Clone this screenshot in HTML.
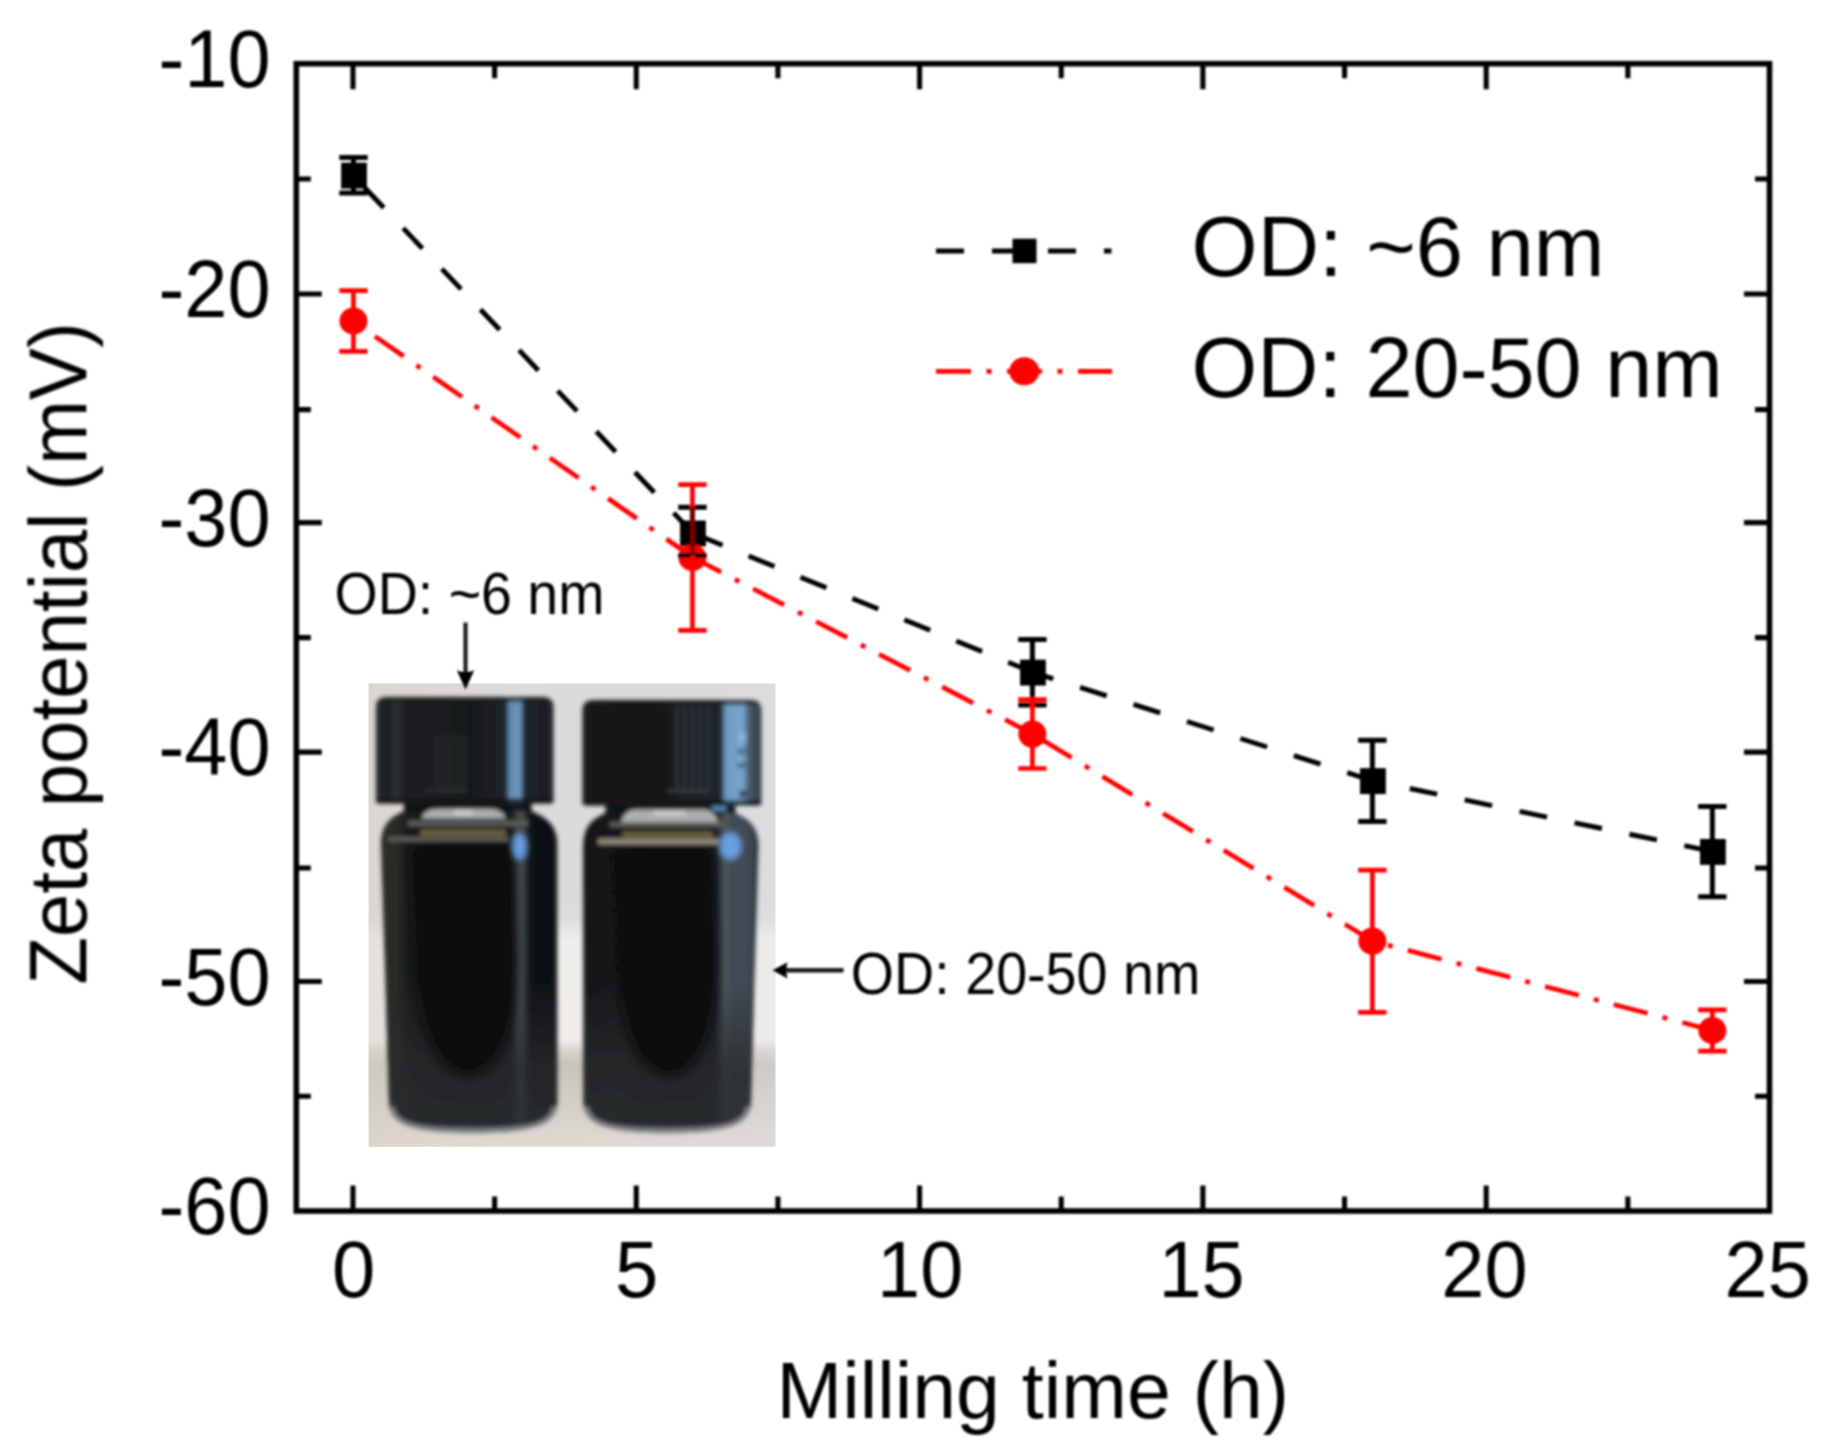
<!DOCTYPE html>
<html lang="en"><head><meta charset="utf-8"><title>Zeta potential vs milling time</title>
<style>
html,body{margin:0;padding:0;background:#fff;}
body{width:1830px;height:1455px;overflow:hidden;}
svg{display:block;}
</style></head><body>
<svg width="1830" height="1455" viewBox="0 0 1830 1455">
<rect width="1830" height="1455" fill="#fff"/>
<defs>
<clipPath id="pclip"><rect x="368.7" y="683.5" width="406.7" height="463.20000000000005"/></clipPath>
<filter id="pblur" x="-5%" y="-5%" width="110%" height="110%"><feGaussianBlur stdDeviation="2.1"/></filter>
<filter id="pblur2" x="-20%" y="-20%" width="140%" height="140%"><feGaussianBlur stdDeviation="4"/></filter>
<filter id="pblur3" x="-20%" y="-20%" width="140%" height="140%"><feGaussianBlur stdDeviation="2.2"/></filter>
<linearGradient id="pbg" gradientUnits="userSpaceOnUse" x1="0" y1="683.5" x2="0" y2="1146.7">
<stop offset="0.0000" stop-color="#dddcdb"/>
<stop offset="0.4674" stop-color="#dcdcdd"/>
<stop offset="0.5063" stop-color="#e0dfdf"/>
<stop offset="0.5538" stop-color="#f4f3f2"/>
<stop offset="0.7696" stop-color="#f4f2f0"/>
<stop offset="0.7934" stop-color="#d8d3cc"/>
<stop offset="0.8215" stop-color="#c5c0b9"/>
<stop offset="0.8884" stop-color="#d0cbc4"/>
<stop offset="1.0000" stop-color="#dfdbd5"/>
</linearGradient>
<linearGradient id="pwarm" gradientUnits="userSpaceOnUse" x1="368.7" y1="0" x2="775.4" y2="0"><stop offset="0" stop-color="#d8d0c6" stop-opacity="0.55"/><stop offset="0.35" stop-color="#d8d0c6" stop-opacity="0.1"/><stop offset="1" stop-color="#dcdde2" stop-opacity="0.35"/></linearGradient>
<linearGradient id="capL" gradientUnits="userSpaceOnUse" x1="376" y1="0" x2="553.5" y2="0">
<stop offset="0.0000" stop-color="#24282a"/>
<stop offset="0.0676" stop-color="#1d2123"/>
<stop offset="0.1127" stop-color="#2a3236"/>
<stop offset="0.1577" stop-color="#1c1f22"/>
<stop offset="0.3606" stop-color="#1b1d20"/>
<stop offset="0.5296" stop-color="#17191c"/>
<stop offset="0.7155" stop-color="#1d2127"/>
<stop offset="0.7408" stop-color="#2d3f52"/>
<stop offset="0.7493" stop-color="#638bb0"/>
<stop offset="0.8141" stop-color="#6c96bc"/>
<stop offset="0.8254" stop-color="#33414f"/>
<stop offset="0.8451" stop-color="#1f242b"/>
<stop offset="0.9521" stop-color="#1a1d22"/>
<stop offset="1.0000" stop-color="#23272c"/>
</linearGradient>
<linearGradient id="capR" gradientUnits="userSpaceOnUse" x1="583" y1="0" x2="761.5" y2="0">
<stop offset="0.0000" stop-color="#1a1c1d"/>
<stop offset="0.0952" stop-color="#151617"/>
<stop offset="0.4314" stop-color="#131416"/>
<stop offset="0.5210" stop-color="#1a1f24"/>
<stop offset="0.6555" stop-color="#1b2229"/>
<stop offset="0.7619" stop-color="#1c242c"/>
<stop offset="0.7843" stop-color="#36495c"/>
<stop offset="0.7955" stop-color="#6e9ac2"/>
<stop offset="0.8964" stop-color="#7aa6cd"/>
<stop offset="0.9188" stop-color="#566f86"/>
<stop offset="0.9356" stop-color="#465664"/>
<stop offset="0.9748" stop-color="#3a4650"/>
<stop offset="1.0000" stop-color="#2b3238"/>
</linearGradient>
<linearGradient id="bodL" gradientUnits="userSpaceOnUse" x1="381" y1="0" x2="557.5" y2="0">
<stop offset="0.0000" stop-color="#23231f"/>
<stop offset="0.0283" stop-color="#2c2d29"/>
<stop offset="0.0963" stop-color="#282926"/>
<stop offset="0.1530" stop-color="#1a1c1d"/>
<stop offset="0.2776" stop-color="#121418"/>
<stop offset="0.6742" stop-color="#101317"/>
<stop offset="0.7422" stop-color="#151a20"/>
<stop offset="0.7649" stop-color="#343c42"/>
<stop offset="0.7932" stop-color="#4a5152"/>
<stop offset="0.8215" stop-color="#2a3036"/>
<stop offset="0.8442" stop-color="#0f1216"/>
<stop offset="0.9575" stop-color="#0e1014"/>
<stop offset="1.0000" stop-color="#15171a"/>
</linearGradient>
<linearGradient id="bodR" gradientUnits="userSpaceOnUse" x1="583" y1="0" x2="758.5" y2="0">
<stop offset="0.0000" stop-color="#1d1e1d"/>
<stop offset="0.0399" stop-color="#151617"/>
<stop offset="0.1652" stop-color="#17191a"/>
<stop offset="0.3248" stop-color="#101216"/>
<stop offset="0.6667" stop-color="#11141a"/>
<stop offset="0.7578" stop-color="#171c24"/>
<stop offset="0.7863" stop-color="#343f4a"/>
<stop offset="0.8148" stop-color="#525a58"/>
<stop offset="0.8376" stop-color="#3f4b56"/>
<stop offset="0.9231" stop-color="#414c55"/>
<stop offset="0.9630" stop-color="#3c444b"/>
<stop offset="1.0000" stop-color="#2c3034"/>
</linearGradient>
<linearGradient id="lowfade" gradientUnits="userSpaceOnUse" x1="0" y1="980" x2="0" y2="1135"><stop offset="0" stop-color="#2a2c2d" stop-opacity="0"/><stop offset="0.55" stop-color="#2a2c2d" stop-opacity="0.75"/><stop offset="1" stop-color="#2c2e30" stop-opacity="0.9"/></linearGradient>
</defs>
<g id="photo" clip-path="url(#pclip)">
<rect x="363.7" y="678.5" width="416.7" height="473.20000000000005" fill="url(#pbg)"/>
<rect x="363.7" y="678.5" width="416.7" height="473.20000000000005" fill="url(#pwarm)"/>
<g filter="url(#pblur)">
<rect x="404" y="797.5" width="127.5" height="31.5" fill="#111213"/>
<clipPath id="vcL"><path d="M404 811C392 817 382 822 381 843L389 1102.5C390 1123.5 409 1132.5 473.15 1132.5C537.3 1132.5 556.3 1123.5 557.3 1102.5L557.3 843C556.3 822 543.5 817 531.5 811Z"/></clipPath>
<path d="M404 811C392 817 382 822 381 843L389 1102.5C390 1123.5 409 1132.5 473.15 1132.5C537.3 1132.5 556.3 1123.5 557.3 1102.5L557.3 843C556.3 822 543.5 817 531.5 811Z" fill="url(#bodL)"/>
<g clip-path="url(#vcL)">
<rect x="379" y="980" width="180.29999999999995" height="160" fill="url(#lowfade)"/>
<path d="M392 1106.5C395 1124.5 415 1130.0 473.15 1130.0C531.3 1130.0 551.3 1124.5 554.3 1106.5" fill="none" stroke="#80848b" stroke-width="4" opacity="0.95"/>
<path d="M409 845L415 956C419 1046 444 1076 468 1076C492 1076 517 1046 517 956L513 845Z" fill="#0b0c0f" opacity="0.9" filter="url(#pblur2)"/>
</g>
<path d="M421 818.5Q425 809 436 809H491Q502 809 506 818.5Z" fill="#adadac"/>
<rect x="454" y="810.5" width="19" height="4" fill="#d2d2d2"/>
<rect x="408" y="820.5" width="120" height="5.5" fill="#5b5b5a"/>
<rect x="420" y="829.5" width="86" height="6.5" rx="3" fill="#6b603f"/>
<rect x="388" y="837" width="121" height="4.5" rx="2" fill="#5e5e56"/>
<ellipse cx="519.5" cy="846.5" rx="7.3" ry="13.5" fill="#699ee0" filter="url(#pblur3)"/>
<path d="M376 800.5V707Q376 697 388 697H541.5Q553.5 697 553.5 707V800.5Q553.5 803.5 549.5 803.5H380Q376 803.5 376 800.5Z" fill="url(#capL)"/>
<clipPath id="ccL"><path d="M376 800.5V707Q376 697 388 697H541.5Q553.5 697 553.5 707V800.5Q553.5 803.5 549.5 803.5H380Q376 803.5 376 800.5Z"/></clipPath><g clip-path="url(#ccL)">
<rect x="376" y="697" width="177.5" height="4.5" fill="#1d1f1f" opacity="0.9"/>
<rect x="376" y="798.5" width="177.5" height="5" fill="#141516" opacity="0.92"/>
<rect x="437" y="735" width="1.6" height="58" fill="#34383c" opacity="0.8"/>
<rect x="444" y="735" width="1.6" height="58" fill="#34383c" opacity="0.8"/>
<rect x="451" y="735" width="1.6" height="58" fill="#34383c" opacity="0.8"/>
<rect x="458" y="735" width="1.6" height="58" fill="#34383c" opacity="0.8"/>
<rect x="464" y="735" width="1.6" height="58" fill="#34383c" opacity="0.8"/>
<rect x="425" y="789" width="42" height="2.2" fill="#3a3b3a" opacity="0.8"/>
</g>
<rect x="605.5" y="799.5" width="130.0" height="31.5" fill="#111213"/>
<clipPath id="vcR"><path d="M605.5 813C593.5 819 584 824 583 845L583.5 1102.5C584.5 1123.5 603.5 1132.5 667.25 1132.5C731 1132.5 750 1123.5 751 1102.5L758.5 845C757.5 824 747.5 819 735.5 813Z"/></clipPath>
<path d="M605.5 813C593.5 819 584 824 583 845L583.5 1102.5C584.5 1123.5 603.5 1132.5 667.25 1132.5C731 1132.5 750 1123.5 751 1102.5L758.5 845C757.5 824 747.5 819 735.5 813Z" fill="url(#bodR)"/>
<g clip-path="url(#vcR)">
<rect x="581" y="980" width="179.5" height="160" fill="url(#lowfade)"/>
<path d="M586.5 1106.5C589.5 1124.5 609.5 1130.0 667.25 1130.0C725 1130.0 745 1124.5 748 1106.5" fill="none" stroke="#80848b" stroke-width="4" opacity="0.95"/>
<path d="M611 847L617 956C621 1046 645 1076 669 1076C693 1076 717 1046 717 956L713 847Z" fill="#0b0c0f" opacity="0.9" filter="url(#pblur2)"/>
</g>
<path d="M621 822Q625 809.5 636 809.5H703Q714 809.5 718 822Z" fill="#adadac"/>
<rect x="654" y="811.0" width="31" height="4" fill="#d2d2d2"/>
<rect x="610" y="822" width="115" height="5" fill="#5b5b5a"/>
<rect x="622" y="831.5" width="91" height="6.0" rx="3" fill="#6b603f"/>
<rect x="598" y="838.5" width="121" height="6.0" rx="2" fill="#8e8a7a"/>
<ellipse cx="730.5" cy="846" rx="11.0" ry="14" fill="#699ee0" filter="url(#pblur3)"/>
<path d="M582.5 802.5V710Q582.5 700 594.5 700H749.3Q761.3 700 761.3 710V802.5Q761.3 805.5 757.3 805.5H586.5Q582.5 805.5 582.5 802.5Z" fill="url(#capR)"/>
<clipPath id="ccR"><path d="M582.5 802.5V710Q582.5 700 594.5 700H749.3Q761.3 700 761.3 710V802.5Q761.3 805.5 757.3 805.5H586.5Q582.5 805.5 582.5 802.5Z"/></clipPath><g clip-path="url(#ccR)">
<rect x="582.5" y="700" width="178.79999999999995" height="4.5" fill="#1d1f1f" opacity="0.9"/>
<rect x="582.5" y="800.5" width="178.79999999999995" height="5" fill="#141516" opacity="0.92"/>
<rect x="676" y="706" width="1.8" height="84" fill="#3a4148" opacity="0.9"/>
<rect x="684" y="706" width="1.8" height="84" fill="#3a4148" opacity="0.9"/>
<rect x="692" y="706" width="1.8" height="84" fill="#3a4148" opacity="0.9"/>
<rect x="700" y="706" width="1.8" height="84" fill="#3a4148" opacity="0.9"/>
<rect x="708" y="706" width="1.8" height="84" fill="#3a4148" opacity="0.9"/>
<rect x="667" y="789.5" width="42" height="2.4" fill="#45484a" opacity="0.8"/>
<rect x="738" y="733" width="8" height="9" fill="#86b4d8"/>
<rect x="737" y="749" width="9" height="5" fill="#4d6a86"/>
<rect x="737" y="763" width="9" height="5" fill="#4d6a86"/>
<rect x="739" y="790" width="9" height="8" fill="#42566a"/>
</g>
<rect x="712" y="806" width="14" height="5" fill="#4f86b8"/>
</g></g>
<defs><filter id="soft" x="0" y="0" width="1830" height="1455" filterUnits="userSpaceOnUse"><feGaussianBlur stdDeviation="1.05"/></filter></defs>
<g id="chart" filter="url(#soft)">
<g id="axes" fill="none" stroke="#000">
<path d="M352.96 1211.00V1185.50M352.96 63.70V89.20M494.62 1211.00V1196.50M494.62 63.70V78.20M636.27 1211.00V1185.50M636.27 63.70V89.20M777.92 1211.00V1196.50M777.92 63.70V78.20M919.58 1211.00V1185.50M919.58 63.70V89.20M1061.23 1211.00V1196.50M1061.23 63.70V78.20M1202.88 1211.00V1185.50M1202.88 63.70V89.20M1344.54 1211.00V1196.50M1344.54 63.70V78.20M1486.19 1211.00V1185.50M1486.19 63.70V89.20M1627.85 1211.00V1196.50M1627.85 63.70V78.20M296.30 179.03H310.80M1769.50 179.03H1755.00M296.30 294.06H321.80M1769.50 294.06H1744.00M296.30 409.59H310.80M1769.50 409.59H1755.00M296.30 522.62H321.80M1769.50 522.62H1744.00M296.30 637.65H310.80M1769.50 637.65H1755.00M296.30 752.08H321.80M1769.50 752.08H1744.00M296.30 868.01H310.80M1769.50 868.01H1755.00M296.30 981.54H321.80M1769.50 981.54H1744.00M296.30 1096.27H310.80M1769.50 1096.27H1755.00" stroke-width="5.1"/>
<rect x="296.3" y="63.7" width="1473.2" height="1147.3" stroke-width="5.6"/>
</g>
<g id="ticklabels" font-family="Liberation Sans, Arial, sans-serif" font-size="79" fill="#000">
<text x="158.5" y="87.0" font-size="81" textLength="112" lengthAdjust="spacingAndGlyphs">-10</text>
<text x="158.5" y="316.5" font-size="81" textLength="112" lengthAdjust="spacingAndGlyphs">-20</text>
<text x="158.5" y="545.9" font-size="81" textLength="112" lengthAdjust="spacingAndGlyphs">-30</text>
<text x="158.5" y="775.4" font-size="81" textLength="112" lengthAdjust="spacingAndGlyphs">-40</text>
<text x="158.5" y="1004.8" font-size="81" textLength="112" lengthAdjust="spacingAndGlyphs">-50</text>
<text x="158.5" y="1234.3" font-size="81" textLength="112" lengthAdjust="spacingAndGlyphs">-60</text>
<text x="331.9" y="1297.3" font-size="80.5" textLength="43.3" lengthAdjust="spacingAndGlyphs">0</text>
<text x="615.0" y="1297.3" font-size="80.5" textLength="43.3" lengthAdjust="spacingAndGlyphs">5</text>
<text x="877.1" y="1297.3" font-size="80.5" textLength="86.2" lengthAdjust="spacingAndGlyphs">10</text>
<text x="1158.4" y="1297.3" font-size="80.5" textLength="86.2" lengthAdjust="spacingAndGlyphs">15</text>
<text x="1441.3" y="1297.3" font-size="80.5" textLength="86.2" lengthAdjust="spacingAndGlyphs">20</text>
<text x="1724.6" y="1297.3" font-size="80.5" textLength="86.2" lengthAdjust="spacingAndGlyphs">25</text>
</g>
<text id="xtitle" font-family="Liberation Sans, Arial, sans-serif" font-size="80" x="776.5" y="1417.5" textLength="512.5" lengthAdjust="spacingAndGlyphs">Milling time (h)</text>
<text id="ytitle" font-family="Liberation Sans, Arial, sans-serif" font-size="81" transform="translate(86.3 984.6) rotate(-90)" x="0" y="0" textLength="662.5" lengthAdjust="spacingAndGlyphs">Zeta potential (mV)</text>
<g id="series">
<g fill="none" stroke="#000" stroke-width="4.9" stroke-dasharray="28 28.1"><line x1="352.96" y1="175.30" x2="692.93" y2="533.20" stroke-dashoffset="39.30"/><line x1="692.93" y1="533.20" x2="1032.90" y2="672.30" stroke-dashoffset="52.10"/><line x1="1032.90" y1="672.30" x2="1372.87" y2="780.80" stroke-dashoffset="6.60"/><line x1="1372.87" y1="780.80" x2="1712.84" y2="851.60" stroke-dashoffset="18.40"/></g>
<g fill="#000"><rect x="341.11" y="162.65" width="25.8" height="25.9"/><rect x="680.08" y="520.55" width="25.8" height="25.9"/><rect x="1020.05" y="659.65" width="25.8" height="25.9"/><rect x="1360.02" y="768.15" width="25.8" height="25.9"/><rect x="1699.99" y="838.95" width="25.8" height="25.9"/></g>
<g fill="none" stroke="#ff0000" stroke-width="4.7" stroke-dasharray="35 15.5 5 15.5"><line x1="352.96" y1="321.00" x2="692.93" y2="557.50" stroke-dashoffset="44.20"/><line x1="692.93" y1="557.50" x2="1032.90" y2="734.10" stroke-dashoffset="3.20"/><line x1="1032.90" y1="734.10" x2="1372.87" y2="941.20" stroke-dashoffset="60.60"/><line x1="1372.87" y1="941.20" x2="1712.84" y2="1030.50" stroke-dashoffset="35.00"/></g>
<g fill="#ff0000"><ellipse cx="353.46" cy="321.00" rx="14" ry="13.6"/><ellipse cx="692.43" cy="557.50" rx="14" ry="13.6"/><ellipse cx="1032.40" cy="734.10" rx="14" ry="13.6"/><ellipse cx="1372.37" cy="941.20" rx="14" ry="13.6"/><ellipse cx="1712.34" cy="1030.50" rx="14" ry="13.6"/></g>
<path d="M353.46 157.60V193.00M339.26 157.60H367.66M339.26 193.00H367.66M692.43 507.20V555.60M678.23 507.20H706.63M678.23 555.60H706.63M1032.40 639.60V705.00M1018.20 639.60H1046.60M1018.20 705.00H1046.60M1372.37 740.20V821.40M1358.17 740.20H1386.57M1358.17 821.40H1386.57M1712.34 806.40V896.80M1698.14 806.40H1726.54M1698.14 896.80H1726.54" fill="none" stroke="#000" stroke-width="5.0"/>
<path d="M353.46 290.70V351.30M339.26 290.70H367.66M339.26 351.30H367.66M692.43 484.60V630.40M678.23 484.60H706.63M678.23 630.40H706.63M1032.40 699.70V768.50M1018.20 699.70H1046.60M1018.20 768.50H1046.60M1372.37 870.10V1012.30M1358.17 870.10H1386.57M1358.17 1012.30H1386.57M1712.34 1009.80V1051.20M1698.14 1009.80H1726.54M1698.14 1051.20H1726.54" fill="none" stroke="#ff0000" stroke-width="4.7"/>
<path d="M692.43 507.20V555.60" stroke="#000" stroke-width="5" opacity="0.55" fill="none"/>
</g>
<g id="legend">
<line x1="936" y1="251" x2="1111.5" y2="251" stroke="#000" stroke-width="4.9" stroke-dasharray="28 28"/>
<rect x="1012.5" y="238.7" width="24" height="24.5" fill="#000"/>
<line x1="936" y1="371.3" x2="1112" y2="371.3" stroke="#ff0000" stroke-width="4.7" stroke-dasharray="35 15.5 5 15.5"/>
<ellipse cx="1024.3" cy="371.3" rx="15" ry="14" fill="#ff0000"/>
<text font-family="Liberation Sans, Arial, sans-serif" font-size="85" x="1191.6" y="275.8" textLength="413" lengthAdjust="spacingAndGlyphs">OD: ~6 nm</text>
<text font-family="Liberation Sans, Arial, sans-serif" font-size="85" x="1191.6" y="397" textLength="531" lengthAdjust="spacingAndGlyphs">OD: 20-50 nm</text>
</g>
<g id="annot">
<text font-family="Liberation Sans, Arial, sans-serif" font-size="58.5" x="334.5" y="614" textLength="270" lengthAdjust="spacingAndGlyphs">OD: ~6 nm</text>
<text font-family="Liberation Sans, Arial, sans-serif" font-size="58.5" x="850.8" y="994" textLength="349.5" lengthAdjust="spacingAndGlyphs">OD: 20-50 nm</text>
<path d="M465.5 622.5V676" stroke="#1c1c1c" stroke-width="4.2" fill="none"/>
<path d="M465.5 689.5L456.8 670.3Q465.5 674 474.2 670.3Z" fill="#000"/>
<path d="M843.5 970.3H784" stroke="#1c1c1c" stroke-width="4.4" fill="none"/>
<path d="M772.6 970.3L787.5 962.2Q785 970.3 787.5 978.4Z" fill="#000"/>
</g>
</g>
</svg>
</body></html>
